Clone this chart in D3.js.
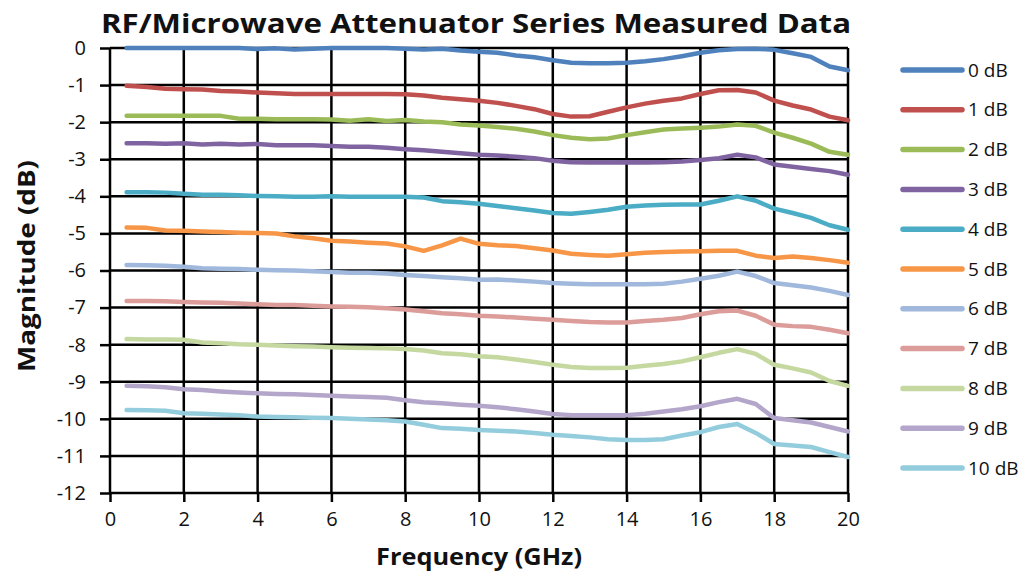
<!DOCTYPE html>
<html>
<head>
<meta charset="utf-8">
<script src="https://cdn.jsdelivr.net/npm/d3@7"></script>
<style>
  body { margin: 0; background: #fff; }
  text { font-family: "Open Sans", "DejaVu Sans", sans-serif; fill: #111; }
</style>
</head>
<body>
<script>
// frequency points (GHz)
const freq = [0.45, 1, 1.5, 2, 2.5, 3, 3.5, 4, 4.5, 5, 5.5, 6, 6.5, 7, 7.5, 8, 8.5, 9, 9.5, 10,
              10.5, 11, 11.5, 12, 12.5, 13, 13.5, 14, 14.5, 15, 15.5, 16, 16.5, 17, 17.5, 18, 18.5, 19, 19.5, 20];

// measured magnitude (dB) per attenuator
const db0 = [0, 0, 0, 0, 0, 0, 0, -0.03, -0.01, -0.04, -0.02, 0, 0, 0, 0, -0.02, -0.04, -0.02, -0.07, -0.1,
             -0.13, -0.2, -0.25, -0.33, -0.4, -0.41, -0.41, -0.4, -0.36, -0.3, -0.22, -0.13, -0.06, -0.03, -0.02, -0.05, -0.14, -0.24, -0.5, -0.6];
const db1 = [-1.02, -1.05, -1.1, -1.11, -1.12, -1.16, -1.17, -1.2, -1.22, -1.24, -1.24, -1.24, -1.24, -1.24, -1.24, -1.25, -1.28, -1.34, -1.38, -1.42,
             -1.48, -1.56, -1.65, -1.78, -1.85, -1.84, -1.72, -1.6, -1.5, -1.42, -1.36, -1.24, -1.14, -1.13, -1.2, -1.42, -1.55, -1.66, -1.85, -1.95];
const db2 = [-1.83, -1.83, -1.83, -1.83, -1.83, -1.83, -1.91, -1.91, -1.92, -1.92, -1.92, -1.93, -1.96, -1.92, -1.97, -1.94, -1.98, -2.0, -2.06, -2.09,
             -2.13, -2.18, -2.25, -2.35, -2.42, -2.46, -2.44, -2.35, -2.27, -2.2, -2.17, -2.15, -2.12, -2.06, -2.1, -2.28, -2.42, -2.58, -2.8, -2.88];
const db3 = [-2.57, -2.57, -2.58, -2.57, -2.6, -2.58, -2.6, -2.59, -2.62, -2.62, -2.62, -2.64, -2.66, -2.66, -2.69, -2.73, -2.76, -2.8, -2.84, -2.88,
             -2.9, -2.93, -2.97, -3.04, -3.08, -3.09, -3.09, -3.08, -3.09, -3.08, -3.06, -3.02, -2.97, -2.88, -2.95, -3.14, -3.2, -3.26, -3.32, -3.42];
const db4 = [-3.89, -3.89, -3.9, -3.93, -3.96, -3.96, -3.97, -3.99, -4.0, -4.01, -4.01, -4.0, -4.01, -4.01, -4.01, -4.01, -4.03, -4.13, -4.16, -4.2,
             -4.26, -4.32, -4.38, -4.45, -4.47, -4.42, -4.36, -4.28, -4.25, -4.23, -4.22, -4.22, -4.12, -4.0, -4.12, -4.33, -4.45, -4.58, -4.78, -4.9];
const db5 = [-4.84, -4.85, -4.92, -4.93, -4.95, -4.96, -4.98, -4.99, -5.0, -5.08, -5.13, -5.2, -5.22, -5.25, -5.27, -5.35, -5.47, -5.32, -5.14, -5.28,
             -5.32, -5.34, -5.4, -5.46, -5.55, -5.58, -5.6, -5.56, -5.52, -5.5, -5.49, -5.48, -5.47, -5.47, -5.6, -5.66, -5.62, -5.66, -5.72, -5.79];
const db6 = [-5.85, -5.86, -5.87, -5.9, -5.94, -5.95, -5.96, -5.98, -5.99, -6.0, -6.02, -6.04, -6.06, -6.06, -6.08, -6.12, -6.15, -6.18, -6.21, -6.25,
             -6.24, -6.27, -6.3, -6.34, -6.36, -6.37, -6.37, -6.37, -6.37, -6.36, -6.3, -6.22, -6.14, -6.03, -6.15, -6.34, -6.4, -6.46, -6.55, -6.66];
const db7 = [-6.82, -6.82, -6.83, -6.85, -6.86, -6.87, -6.89, -6.91, -6.93, -6.93, -6.95, -6.97, -6.98, -6.99, -7.02, -7.05, -7.1, -7.15, -7.18, -7.22,
             -7.24, -7.27, -7.3, -7.33, -7.36, -7.39, -7.4, -7.4, -7.36, -7.33, -7.28, -7.18, -7.1, -7.08, -7.22, -7.46, -7.5, -7.52, -7.6, -7.69];
const db8 = [-7.85, -7.86, -7.86, -7.87, -7.94, -7.96, -7.99, -8.0, -8.02, -8.04, -8.05, -8.07, -8.08, -8.09, -8.1, -8.12, -8.16, -8.23, -8.26, -8.31,
             -8.34, -8.4, -8.47, -8.54, -8.6, -8.63, -8.63, -8.62, -8.57, -8.52, -8.45, -8.34, -8.22, -8.12, -8.25, -8.54, -8.64, -8.75, -8.98, -9.11];
const db9 = [-9.11, -9.12, -9.15, -9.2, -9.22, -9.26, -9.29, -9.31, -9.33, -9.34, -9.36, -9.38, -9.4, -9.41, -9.43, -9.5, -9.55, -9.58, -9.62, -9.65,
             -9.69, -9.74, -9.8, -9.87, -9.9, -9.9, -9.9, -9.9, -9.86, -9.8, -9.74, -9.66, -9.55, -9.46, -9.6, -9.98, -10.04, -10.1, -10.22, -10.34];
const db10 = [-9.76, -9.77, -9.78, -9.85, -9.86, -9.88, -9.9, -9.94, -9.95, -9.96, -9.97, -9.98, -10.0, -10.02, -10.04, -10.07, -10.16, -10.25, -10.27, -10.3,
              -10.32, -10.34, -10.38, -10.43, -10.46, -10.5, -10.55, -10.57, -10.57, -10.55, -10.45, -10.36, -10.22, -10.14, -10.38, -10.68, -10.72, -10.76, -10.9, -11.03];

// series names, values and colours
const seriesNames = ['0 dB', '1 dB', '2 dB', '3 dB', '4 dB', '5 dB', '6 dB', '7 dB', '8 dB', '9 dB', '10 dB'];
const seriesValues = [db0, db1, db2, db3, db4, db5, db6, db7, db8, db9, db10];
const colors = ['#4f81bd', '#c0504d', '#9bbb59', '#8064a2', '#4bacc6', '#f79646',
                '#a0b8dc', '#dc9c9a', '#c4d8a0', '#b3a6ca', '#93cddd'];

// axis ticks
const xTicks = [0, 2, 4, 6, 8, 10, 12, 14, 16, 18, 20];
const yTicks = [0, -1, -2, -3, -4, -5, -6, -7, -8, -9, -10, -11, -12];

const width = 1029, height = 577;
const margin = { left: 110, right: 181, top: 48, bottom: 84 };

var svg = d3.select('body')
            .append('svg')
            .attr('width', width)
            .attr('height', height);

// scales
var x = d3.scaleLinear().domain([0, 20]).range([margin.left, width - margin.right]);
var y = d3.scaleLinear().domain([-12, 0]).range([height - margin.bottom, margin.top]);

// grid lines
svg.append('g')
   .selectAll('line.v')
   .data(xTicks)
   .enter()
   .append('line')
   .attr('x1', d => x(d)).attr('x2', d => x(d))
   .attr('y1', y(0)).attr('y2', y(-12))
   .attr('stroke', '#000').attr('stroke-width', 2.5);

svg.append('g')
   .selectAll('line.h')
   .data(yTicks)
   .enter()
   .append('line')
   .attr('x1', x(0)).attr('x2', x(20))
   .attr('y1', d => y(d)).attr('y2', d => y(d))
   .attr('stroke', '#000').attr('stroke-width', 2.5);

// axes with outside ticks
var xAxis = svg.append('g')
   .attr('transform', 'translate(0,' + y(-12) + ')')
   .call(d3.axisBottom(x).tickValues(xTicks).tickSize(9).tickPadding(10));

var yAxis = svg.append('g')
   .attr('transform', 'translate(' + x(0) + ',0)')
   .call(d3.axisLeft(y).tickValues(yTicks).tickSize(10).tickPadding(14).tickFormat(d => d));

[xAxis, yAxis].forEach(a => {
    a.select('.domain').remove();
    a.selectAll('.tick line').attr('stroke', '#000').attr('stroke-width', 2.5);
    a.selectAll('.tick text')
     .attr('font-size', 20)
     .style('font-family', '"Open Sans", sans-serif')
     .attr('fill', '#111');
});

// data lines
var line = d3.line()
             .x((d, i) => x(freq[i]))
             .y(d => y(d));

svg.append('g')
   .selectAll('path')
   .data(seriesValues)
   .enter()
   .append('path')
   .attr('d', line)
   .attr('fill', 'none')
   .attr('stroke', (d, i) => colors[i])
   .attr('stroke-width', 4.5)
   .attr('stroke-linejoin', 'round')
   .attr('stroke-linecap', 'round');

// titles
svg.append('text')
   .attr('x', 476).attr('y', 33)
   .attr('text-anchor', 'middle')
   .attr('font-size', 27).attr('font-weight', 'bold')
   .attr('textLength', 750).attr('lengthAdjust', 'spacingAndGlyphs')
   .text('RF/Microwave Attenuator Series Measured Data');

svg.append('text')
   .attr('x', 479).attr('y', 565)
   .attr('text-anchor', 'middle')
   .attr('font-size', 23).attr('font-weight', 'bold')
   .attr('textLength', 206).attr('lengthAdjust', 'spacingAndGlyphs')
   .text('Frequency (GHz)');

svg.append('text')
   .attr('transform', 'translate(35,266) rotate(-90)')
   .attr('text-anchor', 'middle')
   .attr('font-size', 23).attr('font-weight', 'bold')
   .attr('textLength', 212).attr('lengthAdjust', 'spacingAndGlyphs')
   .text('Magnitude (dB)');

// legend
var legend = svg.append('g')
   .selectAll('g')
   .data(seriesNames)
   .enter()
   .append('g')
   .attr('transform', (d, i) => 'translate(903,' + (70 + i * 39.8) + ')');

legend.append('line')
      .attr('x1', 0).attr('x2', 59)
      .attr('stroke', (d, i) => colors[i])
      .attr('stroke-width', 5.5)
      .attr('stroke-linecap', 'round');

legend.append('text')
      .attr('x', 65).attr('dy', '0.35em')
      .attr('font-size', 19)
      .text(d => d);
</script>
</body>
</html>
